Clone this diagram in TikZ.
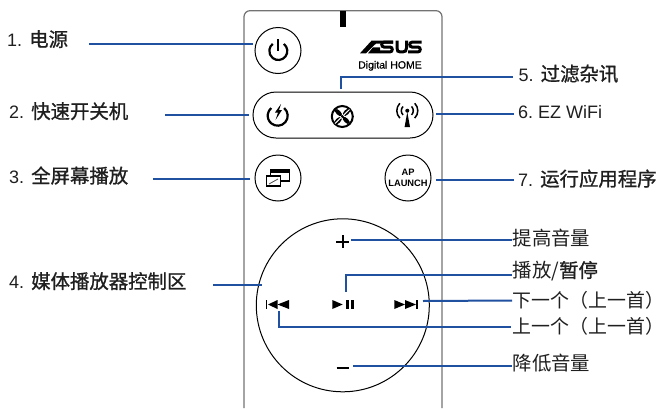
\documentclass[tikz,border=0pt]{standalone}
\usepackage{fontspec}
\usetikzlibrary{shapes.misc}
\setmainfont{Liberation Sans}
\newfontfamily\cjk{Noto Sans CJK SC}
\newfontfamily\cjkm[FakeBold=1]{Noto Sans CJK SC}
\newfontfamily\brandfont[FakeBold=0.6]{Liberation Sans}
\definecolor{leadblue}{RGB}{32,80,160}
\newcommand{\zh}[1]{{\cjk\fontsize{19.4}{20}\selectfont #1}}
\newcommand{\zhn}[1]{{\cjk\fontsize{18.9}{20}\selectfont #1}}
\newcommand{\zhb}[1]{{\cjkm\fontsize{19.4}{20}\selectfont #1}}
\tikzset{
  x=1pt,y=-1pt,
  body/.style={draw=black!55,line width=1.2pt,rounded corners=6pt},
  btn/.style={draw=black,line width=1pt,fill=white,circle,minimum size=46pt,inner sep=0pt},
  pill/.style={draw=black,line width=1pt,rounded rectangle,minimum width=180pt,minimum height=46pt,inner sep=0pt},
  lead/.style={draw=leadblue,line width=2pt},
  lab/.style={anchor=base west,inner sep=0pt,font=\fontsize{18}{20}\selectfont,text=black!88},
  ico/.style={draw=black,line width=2pt},
}
\begin{document}
\begin{tikzpicture}
\useasboundingbox (0,0) rectangle (665,410);
% remote body
\draw[body] (244,408) -- (244,10.7) -- (442,10.7) -- (442,408);
\fill[black] (340,11) rectangle (346,27);
% buttons
\node[btn] (power) at (278,50.5) {};
\node[pill] (strip) at (343,115) {};
\node[btn] (full) at (278,178) {};
\node[btn,font=\bfseries\fontsize{9.3}{10.6}\selectfont,align=center] (launch) at (408,178) {AP\\LAUNCH};
\node[draw=black,line width=1pt,circle,minimum size=173pt,inner sep=0pt] (pad) at (342.8,305.3) {};
% logo
\fill[black] (360,53.3) -- (371.5,40.7) -- (393,40.7) -- (393,43.7) -- (376,43.7) -- (375,44.5) -- (366,53.3) -- cycle;
\fill[black] (373,47.3) -- (380,47.3) -- (380,53.3) -- (368,53.3) -- cycle;
\draw[black,line width=3pt] (393,42.2) -- (384,42.2) .. controls (381,42.2) and (381,47) .. (384,47) -- (390,47) .. controls (393,47) and (393,51.9) .. (390,51.9) -- (380,51.9);
\draw[black,line width=3pt] (397,40.7) -- (397,48) .. controls (397,51) and (398,51.9) .. (400,51.9) -- (403,51.9) .. controls (405,51.9) and (406.5,51) .. (406.5,48) -- (406.5,40.7);
\draw[black,line width=3pt] (421.7,42.2) -- (412,42.2) .. controls (409,42.2) and (409,47) .. (412,47) -- (418,47) .. controls (421,47) and (421,51.9) .. (418,51.9) -- (408,51.9);
\node[anchor=base,inner sep=0pt,font=\brandfont\fontsize{10.5}{12}\selectfont] (brand) at (390,68.5) {Digital HOME};
% power icon
\draw[ico,line width=2.2pt] (278.3,51) ++(-52:9) arc[start angle=-52,end angle=232,radius=9];
\draw[ico,line width=2.2pt] (278.3,39) -- (278.3,51);
% quick power icon
\draw[ico,line width=2.2pt] (277.7,115.7) ++(-50:10) arc[start angle=-50,end angle=230,radius=10];
\fill[black] (281,104) -- (275,112.5) -- (278,112.5) -- (275.5,120) -- (282,110) -- (279,110) -- cycle;
% fan icon
\draw[ico] (342.3,116.5) circle[radius=10.5];
\foreach \a/\d/\w in {-45/5.5/2.2,45/6/2.5,135/5.5/2.2,225/6/2.5}{
  \fill[black,rotate around={\a:(342.3,116.5)}] (342.3,116.5) ++(\d,0) ellipse[x radius=4.6,y radius=\w];
}
\draw[white,line width=1pt] (335,123.5) -- (349.5,109.5);
\fill[black] (342.3,116.5) circle[radius=1.5];
% antenna icon
\fill[black] (407.3,110.7) circle[radius=2];
\fill[black] (407.3,112) -- (404.6,127) -- (410,127) -- cycle;
\foreach \r in {6,10.5}{
  \draw[black,line width=1.5pt] (407.3,110.7) ++(-45:\r) arc[start angle=-45,end angle=45,radius=\r];
  \draw[black,line width=1.5pt] (407.3,110.7) ++(135:\r) arc[start angle=135,end angle=225,radius=\r];
}
% window icon
\draw[black,line width=1.2pt] (270.5,169.5) rectangle (289.5,181);
\fill[black] (270,169) rectangle (290,172.5);
\draw[black,line width=1.3pt,fill=white] (266.6,175.5) rectangle (280.6,186);
\fill[black] (266,175) rectangle (281,177.3);
\draw[black!70,line width=0.8pt] (269,184) -- (278,179);
% pad icons
\draw[black,line width=2.2pt] (342.7,235.2) -- (342.7,248.2) (336.2,241.7) -- (349.2,241.7);
\draw[black,line width=2.2pt] (336.7,368) -- (349.3,368);
\fill[black] (265.7,300) rectangle (267.4,309);
\fill[black] (268,304.5) -- (277.5,300) -- (277.5,309) -- cycle;
\fill[black] (277.5,304.5) -- (289,300) -- (289,309) -- cycle;
\fill[black] (332.3,300) -- (342.7,304.5) -- (332.3,309) -- cycle;
\fill[black] (346,300) rectangle (348.5,309);
\fill[black] (350.9,300) rectangle (353.5,309);
\fill[black] (394.3,300) -- (405,304.5) -- (394.3,309) -- cycle;
\fill[black] (405,300) -- (416,304.5) -- (405,309) -- cycle;
\fill[black] (416,300) rectangle (417.8,309);
% labels
\node[lab] (t1) at (7,46.5) {1.\hspace{7pt}\zhb{电源}};
\node[lab] (t2) at (9,118.5) {2.\hspace{7pt}\zhb{快速开关机}};
\node[lab] (t3) at (9,183) {3.\hspace{7pt}\zhb{全屏幕播放}};
\node[lab] (t4) at (9,288.5) {4.\hspace{7pt}\zhb{媒体播放器控制区}};
\node[lab] (t5) at (518.5,81) {5.\hspace{7pt}\zhb{过滤杂讯}};
\node[lab] (t6) at (518,118) {6.\hspace{5pt}EZ WiFi};
\node[lab] (t7) at (518,186) {7.\hspace{7pt}\zhb{运行应用程序}};
\node[lab] (t8) at (512.5,245) {\zh{提高音量}};
\node[lab] (t9) at (512.5,277.5) {\zh{播放/}\zhb{暂停}};
\node[lab] (t10) at (512.5,307.5) {\zhn{下一个（上一首）}};
\node[lab] (t11) at (512.5,333) {\zhn{上一个（上一首）}};
\node[lab] (t12) at (512.5,370) {\zh{降低音量}};
% connector ends
\coordinate (a1) at (89,43.7);   \coordinate (b1) at (253,43.7);
\coordinate (a2) at (165,115);   \coordinate (b2) at (249,115);
\coordinate (a3) at (153,179);   \coordinate (b3) at (250,179);
\coordinate (a4) at (213,285.4); \coordinate (b4) at (262,285.4);
\coordinate (a5) at (341,89);    \coordinate (m5) at (341,76.5);   \coordinate (b5) at (513,76.5);
\coordinate (a6) at (436,114);   \coordinate (b6) at (514,114);
\coordinate (a7) at (436,180);   \coordinate (b7) at (514,180);
\coordinate (a8) at (351,239.5); \coordinate (b8) at (512,239.5);
\coordinate (a9) at (346,292);   \coordinate (m9) at (346,275);    \coordinate (b9) at (512,275);
\coordinate (a10) at (423,301);  \coordinate (b10) at (512,300.5);
\coordinate (a11) at (278.5,311);\coordinate (m11) at (278.5,327); \coordinate (b11) at (511,327);
\coordinate (a12) at (353,366);  \coordinate (b12) at (512,366);
% connectors
\draw[lead] (a1) -- (b1);
\draw[lead] (a2) -- (b2);
\draw[lead] (a3) -- (b3);
\draw[lead] (a4) -- (b4);
\draw[lead] (a5) -- (m5) -- (b5);
\draw[lead] (a6) -- (b6);
\draw[lead] (a7) -- (b7);
\draw[lead] (a8) -- (b8);
\draw[lead] (a9) -- (m9) -- (b9);
\draw[lead] (a10) -- (b10);
\draw[lead] (a11) -- (m11) -- (b11);
\draw[lead] (a12) -- (b12);
\end{tikzpicture}
\end{document}
